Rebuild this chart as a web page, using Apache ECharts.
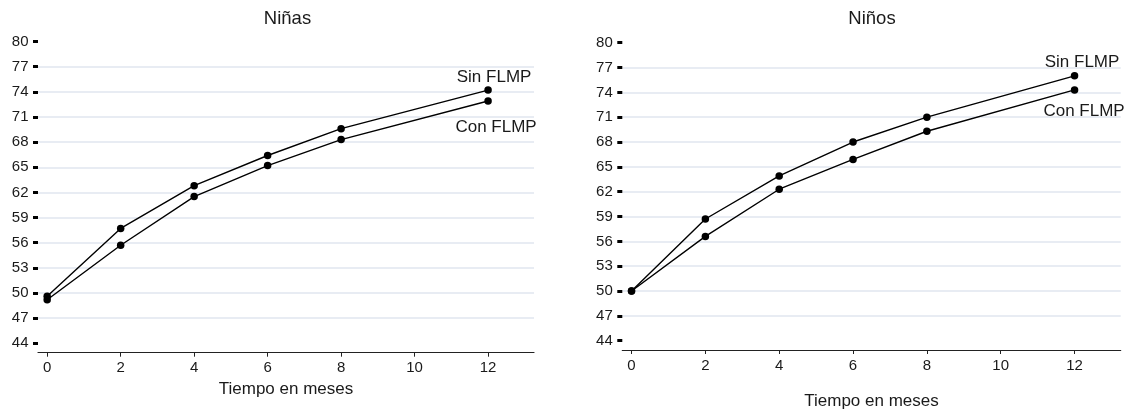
<!DOCTYPE html>
<html>
<head>
<meta charset="utf-8">
<script src="https://cdn.jsdelivr.net/npm/echarts@6/dist/echarts.min.js"></script>
<style>
html,body{margin:0;padding:0;background:#fff;}
#chart{width:1136px;height:415px;}
</style>
</head>
<body>
<div id="chart"></div>
<script>
// ---- data ----
const meses = [0, 2, 4, 6, 8, 12];
const ninasSin = [49.6, 57.7, 62.8, 66.4, 69.6, 74.2];
const ninasCon = [49.2, 55.7, 61.5, 65.2, 68.3, 72.9];
const ninosSin = [50.0, 58.7, 63.9, 68.0, 71.0, 76.0];
const ninosCon = [50.0, 56.6, 62.3, 65.9, 69.3, 74.3];
const yTicks = [44, 47, 50, 53, 56, 59, 62, 65, 68, 71, 74, 77, 80];
const xTicks = [0, 2, 4, 6, 8, 10, 12];
const panelTitles = ['Niñas', 'Niños'];
const seriesNames = ['Sin FLMP', 'Con FLMP'];
const xTitle = 'Tiempo en meses';

const FONT = '"Liberation Sans", Arial, Helvetica, sans-serif';
const TXT = '#1a1a1a';

const panels = [
  { sin: ninasSin, con: ninasCon, grid: { left: 38, top: 41.5, width: 496, height: 301.8 }, xOffset: 9.4, nameGap: 25,
    sinOff: [6, -12.5], conOff: [8, 26], titleX: 287.5 },
  { sin: ninosSin, con: ninosCon, grid: { left: 622.3, top: 42.7, width: 498.4, height: 301.3 }, xOffset: 9.3, nameGap: 43,
    sinOff: [7.5, -13.5], conOff: [9.5, 21], titleX: 872 }
];

function buildData(vals, labelText, off) {
  return vals.map((v, i) => {
    const item = { value: [meses[i], v] };
    if (i === vals.length - 1) {
      item.label = {
        show: true, formatter: labelText, position: 'inside', offset: off,
        align: 'center', verticalAlign: 'middle',
        color: TXT, fontSize: 17, fontFamily: FONT
      };
    }
    return item;
  });
}

const grids = [], xAxes = [], yAxes = [], series = [], graphics = [];
panels.forEach((p, k) => {
  grids.push(Object.assign({ containLabel: false }, p.grid));
  xAxes.push({
    type: 'value', gridIndex: k, min: -0.25, max: 13.25, offset: p.xOffset,
    name: xTitle, nameLocation: 'middle', nameGap: p.nameGap,
    nameTextStyle: { color: TXT, fontSize: 17, fontFamily: FONT },
    axisLine: { show: true, onZero: false, lineStyle: { color: '#222', width: 1.2 } },
    axisTick: { show: true, length: 4, inside: false, customValues: xTicks, lineStyle: { color: '#222', width: 1 } },
    axisLabel: { customValues: xTicks, margin: 8, color: TXT, fontSize: 15, fontFamily: FONT },
    splitLine: { show: false }
  });
  yAxes.push({
    type: 'value', gridIndex: k, min: 44, max: 80,
    axisLine: { show: false, onZero: false },
    axisTick: { show: true, length: 5, inside: false, customValues: yTicks, lineStyle: { color: '#000', width: 3 } },
    axisLabel: { customValues: yTicks, margin: 9.5, color: TXT, fontSize: 15, fontFamily: FONT },
    splitLine: { show: true, showMinLine: false, showMaxLine: false, lineStyle: { color: '#e1e6ef', width: 1.5 } }
  });
  [[p.sin, seriesNames[0], p.sinOff], [p.con, seriesNames[1], p.conOff]].forEach(([vals, nm, off]) => {
    series.push({
      type: 'line', name: nm, xAxisIndex: k, yAxisIndex: k,
      data: buildData(vals, nm, off),
      symbol: 'circle', symbolSize: 7.5, showSymbol: true,
      lineStyle: { color: '#000', width: 1.4 },
      itemStyle: { color: '#000' },
      label: { show: false },
      emphasis: { disabled: true },
      animation: false, z: 3
    });
  });
  graphics.push({
    type: 'text', x: p.titleX, y: 18.5,
    style: { text: panelTitles[k], align: 'center', verticalAlign: 'middle',
      fill: TXT, fontSize: 18.5, fontFamily: FONT }
  });
});

const chart = echarts.init(document.getElementById('chart'), null, { renderer: 'canvas' });
chart.setOption({
  backgroundColor: '#fff',
  animation: false,
  graphic: graphics,
  grid: grids,
  xAxis: xAxes,
  yAxis: yAxes,
  series: series
});
</script>
</body>
</html>
